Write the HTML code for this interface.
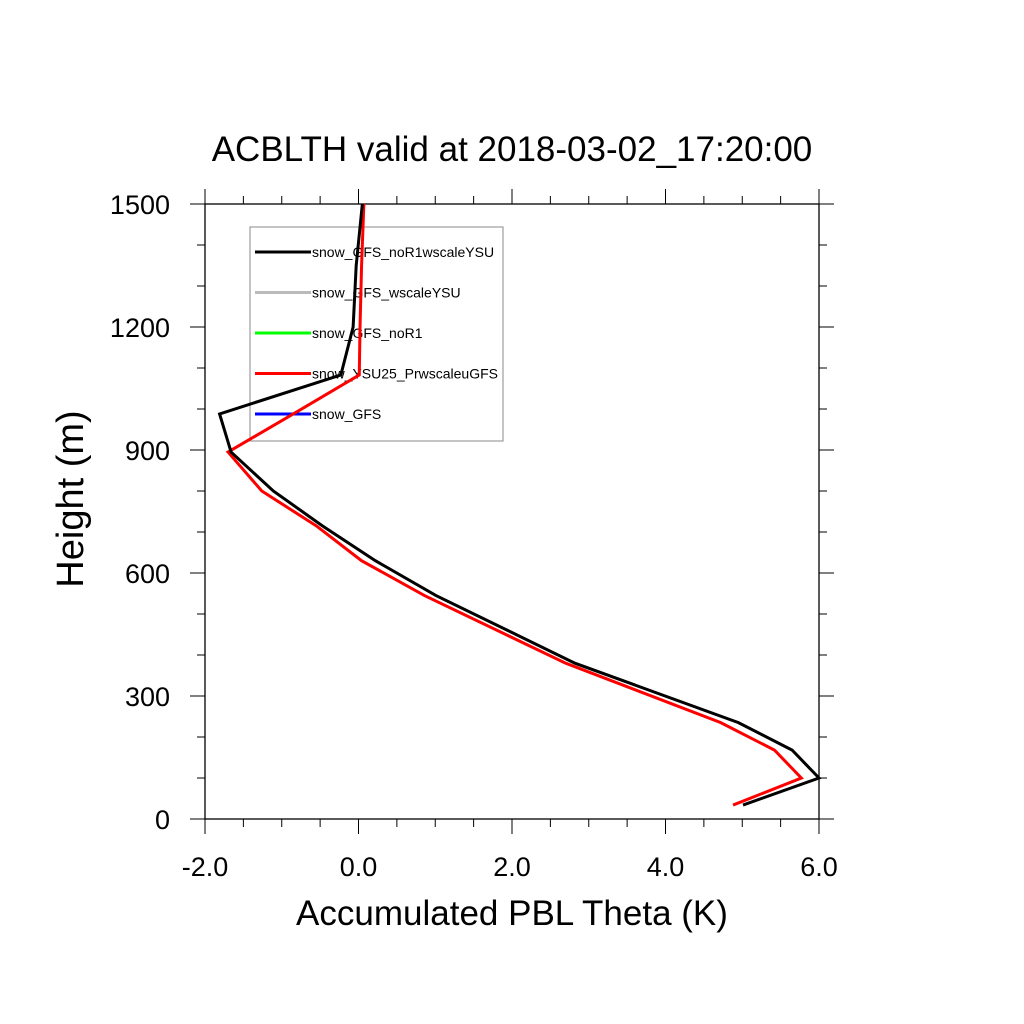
<!DOCTYPE html>
<html><head><meta charset="utf-8"><style>body{margin:0;background:#fff}svg{display:block;font-family:"Liberation Sans",sans-serif}</style></head>
<body>
<svg id="c" width="1024" height="1024"></svg>
<script>
const heights=[34,100,168,235,380,545,630,715,800,895,988,1083,1200,1350,1500];
const blackVals=[5.01,6.0,5.65,4.95,2.82,1.01,0.22,-0.47,-1.11,-1.66,-1.81,-0.23,-0.07,-0.03,0.05];
const redVals=[4.88,5.77,5.42,4.72,2.7,0.86,0.04,-0.55,-1.26,-1.70,-0.85,0.01,0.02,0.04,0.07];
const xTicks=[-2,0,2,4,6];
const xTickLabels=["-2.0","0.0","2.0","4.0","6.0"];
const yTicks=[0,300,600,900,1200,1500];
const legendNames=["snow_GFS_noR1wscaleYSU","snow_GFS_wscaleYSU","snow_GFS_noR1","snow_YSU25_PrwscaleuGFS","snow_GFS"];
const legendColors=["#000","#bbb","#0f0","#f00","#00f"];
const L=205,R=819,T=204,B=819;
const sx=v=>L+(v+2)/8*(R-L), sy=h=>B-h/1500*(B-T);
const s=document.getElementById('c');const NS='http://www.w3.org/2000/svg';
function el(t,a,p){const e=document.createElementNS(NS,t);for(const k in a)e.setAttribute(k,a[k]);(p||s).appendChild(e);return e;}
let e;
e=el('rect',{x:L,y:T,width:R-L,height:B-T,fill:'none',stroke:'#000','stroke-width':1.3});

for(let v=-2;v<=6.001;v+=0.5){const maj=Math.abs(v%2)<1e-6;const len=maj?15:8;const x=sx(v);
el('line',{x1:x,y1:B,x2:x,y2:B+len,stroke:'#000','stroke-width':1});el('line',{x1:x,y1:T,x2:x,y2:T-len,stroke:'#000','stroke-width':1});}
for(let h=0;h<=1500;h+=100){const maj=h%300===0;const len=maj?15:8;const y=sy(h);
el('line',{x1:L,y1:y,x2:L-len,y2:y,stroke:'#000','stroke-width':1});el('line',{x1:R,y1:y,x2:R+len,y2:y,stroke:'#000','stroke-width':1});}
xTicks.forEach((v,i)=>{e=el('text',{x:sx(v),y:876,'font-size':27,'text-anchor':'middle'});e.textContent=xTickLabels[i];
});
yTicks.forEach(v=>{e=el('text',{x:170,y:sy(v)+10,'font-size':27,'text-anchor':'end'});e.textContent=v;
});
e=el('text',{x:512,y:161,'font-size':35,'text-anchor':'middle'});e.textContent='ACBLTH valid at 2018-03-02_17:20:00';

e=el('text',{x:512,y:925,'font-size':35,'text-anchor':'middle'});e.textContent='Accumulated PBL Theta (K)';

e=el('text',{x:83,y:499,'font-size':38,'text-anchor':'middle',transform:'rotate(-90 83 499)'});e.textContent='Height (m)';

e=el('rect',{x:250,y:227,width:253,height:214,fill:'none',stroke:'#888','stroke-width':1});

legendNames.forEach((n,i)=>{const y=252+i*40.5;
e=el('line',{x1:255,y1:y,x2:311,y2:y,stroke:legendColors[i],'stroke-width':3});

e=el('text',{x:312,y:y+5,'font-size':14});e.textContent=n;
});
function series(vals,col,name){const pts=vals.map((v,i)=>sx(v)+','+sy(heights[i])).join(' ');
const p=el('polyline',{points:pts,fill:'none',stroke:col,'stroke-width':3,'stroke-linejoin':'miter'});
}
series(redVals,'#f00','line-snow-ysu25-prwscaleugfs');
series(blackVals,'#000','line-snow-gfs-nor1wscaleysu');
</script>
</body></html>
